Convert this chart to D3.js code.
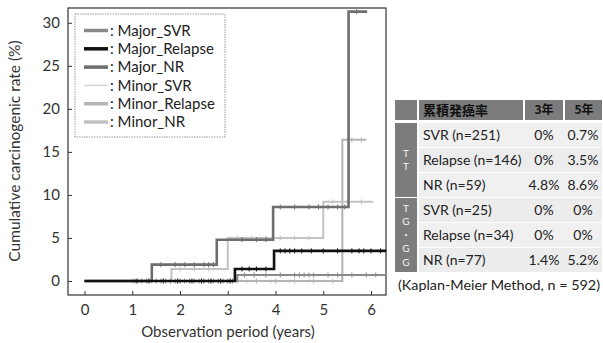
<!DOCTYPE html>
<html>
<head>
<meta charset="utf-8">
<script src="https://cdn.jsdelivr.net/npm/d3@7"></script>
<style>
  body { margin: 0; background: #fff; }
  svg { display: block; font-family: Lato, "Noto Sans CJK JP", sans-serif; }
</style>
</head>
<body>
<svg id="chart" width="603" height="343"></svg>
<script>
// axis ticks
const yearTicks = [0, 1, 2, 3, 4, 5, 6];
const rateTicks = [0, 5, 10, 15, 20, 25, 30];

// Kaplan-Meier steps (time in years, cumulative rate %)
const majorSvrT = [0, 3.2, 6.32];
const majorSvrV = [0, 0.7, 0.7];
const majorRelapseT = [0, 3.15, 3.97, 6.32];
const majorRelapseV = [0, 1.4, 3.5, 3.5];
const majorNrT = [0, 1.41, 2.77, 3.95, 5.53, 5.92];
const majorNrV = [0, 1.9, 4.8, 8.6, 31.3, 31.3];
const minorSvrT = [0, 4.95];
const minorSvrV = [0, 0];
const minorRelapseT = [0, 5.4, 5.9];
const minorRelapseV = [0, 16.4, 16.4];
const minorNrT = [0, 1.82, 3.0, 5.0, 6.05];
const minorNrV = [0, 1.4, 5.0, 9.2, 9.2];

// censoring marks (years)
const majorSvrCens = [1.05, 1.2, 1.3, 1.5, 1.6, 1.7, 1.8, 1.9, 2.0, 2.1, 2.2, 2.3, 2.4, 2.5, 2.6, 2.7, 2.8, 2.9, 3.0, 3.1, 3.35, 3.55, 3.8, 4.1, 4.4, 4.5, 4.6, 4.7, 4.8, 5.1, 5.3, 5.6, 5.9, 6.1];
const majorRelapseCens = [1.1, 1.35, 1.65, 1.95, 2.25, 2.45, 2.65, 2.85, 3.05, 3.3, 3.45, 3.6, 3.8, 4.1, 4.2, 4.3, 4.4, 4.55, 4.75, 5.0, 5.3, 5.6, 5.75, 5.85, 6.0, 6.2];
const majorNrCens = [1.6, 1.9, 2.1, 2.3, 2.5, 2.6, 2.7, 3.3, 3.6, 3.8, 4.1, 4.4, 4.7, 4.9, 5.1, 5.3, 5.45, 5.7];
const minorSvrCens = [1.4, 2.0, 2.6, 3.4, 3.9, 4.3, 4.7];
const minorRelapseCens = [1.0, 1.8, 2.5, 3.2, 3.6, 4.0, 4.4, 4.8, 5.2, 5.6, 5.8];
const minorNrCens = [2.0, 2.3, 2.6, 3.2, 3.5, 3.8, 4.1, 4.4, 4.7, 5.2, 5.5, 5.8];

const seriesNames = ["Major_SVR", "Major_Relapse", "Major_NR", "Minor_SVR", "Minor_Relapse", "Minor_NR"];
const seriesT = [majorSvrT, majorRelapseT, majorNrT, minorSvrT, minorRelapseT, minorNrT];
const seriesV = [majorSvrV, majorRelapseV, majorNrV, minorSvrV, minorRelapseV, minorNrV];
const seriesCens = [majorSvrCens, majorRelapseCens, majorNrCens, minorSvrCens, minorRelapseCens, minorNrCens];
const seriesColor = ["#8a8a8a", "#111111", "#6e6e6e", "#d4d4d4", "#b4b4b4", "#c2c2c2"];
const seriesWidth = [2.2, 2.6, 2.6, 1.4, 2, 2];

// table
const headerLabels = ["累積発癌率", "3年", "5年"];
const groupLabels = [["T", "T"], ["T", "G", "・", "G", "G"]];
const rowLabels = ["SVR (n=251)", "Relapse (n=146)", "NR (n=59)", "SVR (n=25)", "Relapse (n=34)", "NR (n=77)"];
const rate3y = ["0%", "0%", "4.8%", "0%", "0%", "1.4%"];
const rate5y = ["0.7%", "3.5%", "8.6%", "0%", "0%", "5.2%"];
const caption = "(Kaplan-Meier Method, n =  592)";

const svg = d3.select("#chart");

const box = { left: 68, top: 8, right: 386, bottom: 295 };
const x = d3.scaleLinear().domain([0, 6]).range([84.5, 371]);
const y = d3.scaleLinear().domain([0, 30]).range([281, 22.8]);

// frame
svg.append("rect")
  .attr("x", box.left).attr("y", box.top)
  .attr("width", box.right - box.left).attr("height", box.bottom - box.top)
  .attr("fill", "none").attr("stroke", "#333").attr("stroke-width", 1.2);

const yAxis = svg.append("g")
  .attr("transform", `translate(${box.left},0)`)
  .call(d3.axisLeft(y).tickValues(rateTicks).tickFormat(d3.format("d")).tickSize(-4).tickPadding(8));
const xAxis = svg.append("g")
  .attr("transform", `translate(0,${box.bottom})`)
  .call(d3.axisBottom(x).tickValues(yearTicks).tickFormat(d3.format("d")).tickSize(-4).tickPadding(9));
[xAxis, yAxis].forEach(a => {
  a.select(".domain").remove();
  a.selectAll("line").attr("stroke", "#333");
  a.selectAll("text").attr("fill", "#333").style("font-size", "15px").style("font-family", "Lato, sans-serif");
});

svg.append("text")
  .attr("x", 228).attr("y", 337)
  .attr("text-anchor", "middle").attr("fill", "#333")
  .style("font-size", "15px")
  .text("Observation period (years)");

svg.append("text")
  .attr("transform", "translate(20,151) rotate(-90)")
  .attr("text-anchor", "middle").attr("fill", "#333")
  .style("font-size", "15.5px")
  .text("Cumulative carcinogenic rate (%)");

// curves
const line = d3.line().x(d => x(d[0])).y(d => y(d[1])).curve(d3.curveStepAfter);

function valueAt(ts, vs, t) {
  let v = vs[0];
  for (let i = 0; i < ts.length; i++) if (ts[i] <= t) v = vs[i];
  return v;
}

const drawOrder = [3, 4, 5, 0, 2, 1];
drawOrder.forEach(i => {
  const pts = seriesT[i].map((t, k) => [t, seriesV[i][k]]);
  svg.append("path")
    .attr("d", line(pts))
    .attr("fill", "none")
    .attr("stroke", seriesColor[i])
    .attr("stroke-width", seriesWidth[i]);
  svg.append("g").selectAll("line")
    .data(seriesCens[i].filter(t => t <= seriesT[i][seriesT[i].length - 1]))
    .join("line")
    .attr("x1", t => x(t)).attr("x2", t => x(t))
    .attr("y1", t => y(valueAt(seriesT[i], seriesV[i], t)) - 2.5)
    .attr("y2", t => y(valueAt(seriesT[i], seriesV[i], t)) + 2.5)
    .attr("stroke", seriesColor[i])
    .attr("stroke-width", 1);
});

// legend
const lg = svg.append("g");
lg.append("rect")
  .attr("x", 75).attr("y", 14).attr("width", 150).attr("height", 123)
  .attr("fill", "#fff").attr("stroke", "#999").attr("stroke-width", 1)
  .attr("stroke-dasharray", "1.5,1");
seriesNames.forEach((name, i) => {
  const yy = 30.5 + i * 18.3;
  lg.append("line")
    .attr("x1", 84).attr("x2", 108).attr("y1", yy).attr("y2", yy)
    .attr("stroke", seriesColor[i]).attr("stroke-width", i === 3 ? 1.4 : 3.5);
  lg.append("text")
    .attr("x", 110).attr("y", yy).attr("dy", "0.35em")
    .attr("fill", "#222").style("font-size", "15px")
    .text(": " + name);
});

// table
const tb = svg.append("g");
const rowY = d3.scaleBand().domain(rowLabels).range([123, 272]).paddingInner(0.04);
const dark = "#7c7c7c";
const light = "#f0f0f0";

tb.append("rect").attr("x", 395).attr("y", 100).attr("width", 22).attr("height", 20).attr("fill", dark);
tb.append("rect").attr("x", 419).attr("y", 100).attr("width", 104).attr("height", 20).attr("fill", dark);
tb.append("rect").attr("x", 525).attr("y", 100).attr("width", 38).attr("height", 20).attr("fill", dark);
tb.append("rect").attr("x", 565).attr("y", 100).attr("width", 37).attr("height", 20).attr("fill", dark);

tb.append("text").attr("x", 423).attr("y", 110).attr("dy", "0.35em")
  .style("font-size", "13px").style("font-weight", "bold").attr("fill", "#111")
  .style("font-family", "'Noto Sans CJK JP', sans-serif")
  .text(headerLabels[0]);
tb.append("text").attr("x", 544).attr("y", 110).attr("dy", "0.35em").attr("text-anchor", "middle")
  .style("font-size", "12px").style("font-weight", "bold").attr("fill", "#111")
  .style("font-family", "'Noto Sans CJK JP', sans-serif")
  .text(headerLabels[1]);
tb.append("text").attr("x", 584).attr("y", 110).attr("dy", "0.35em").attr("text-anchor", "middle")
  .style("font-size", "12px").style("font-weight", "bold").attr("fill", "#111")
  .style("font-family", "'Noto Sans CJK JP', sans-serif")
  .text(headerLabels[2]);

// group cells
const groupSpans = [[rowY(rowLabels[0]), rowY(rowLabels[2]) + rowY.bandwidth()],
                    [rowY(rowLabels[3]), rowY(rowLabels[5]) + rowY.bandwidth()]];
groupSpans.forEach((s, g) => {
  tb.append("rect").attr("x", 395).attr("y", s[0]).attr("width", 22).attr("height", s[1] - s[0]).attr("fill", dark);
  const letters = groupLabels[g];
  const step = g === 0 ? 13 : 13.5;
  const mid = (s[0] + s[1]) / 2;
  letters.forEach((ch, k) => {
    tb.append("text").attr("x", 406).attr("y", mid + (k - (letters.length - 1) / 2) * step)
      .attr("dy", "0.35em").attr("text-anchor", "middle")
      .style("font-size", "10px").attr("fill", "#f4f4f4")
      .text(ch);
  });
});

rowLabels.forEach((r, i) => {
  const yy = rowY(r);
  tb.append("rect").attr("x", 419).attr("y", yy).attr("width", 183).attr("height", rowY.bandwidth())
    .attr("fill", i % 2 === 1 ? "#ececec" : light);
  const cy = yy + rowY.bandwidth() / 2;
  tb.append("text").attr("x", 423).attr("y", cy).attr("dy", "0.35em")
    .style("font-size", "14px").attr("fill", "#222").text(r);
  tb.append("text").attr("x", 544).attr("y", cy).attr("dy", "0.35em").attr("text-anchor", "middle")
    .style("font-size", "14px").attr("fill", "#222").text(rate3y[i]);
  tb.append("text").attr("x", 583).attr("y", cy).attr("dy", "0.35em").attr("text-anchor", "middle")
    .style("font-size", "14px").attr("fill", "#222").text(rate5y[i]);
});

tb.append("text").attr("x", 398).attr("y", 285).attr("dy", "0.35em")
  .style("font-size", "14px").attr("fill", "#222")
  .attr("textLength", 202).attr("lengthAdjust", "spacingAndGlyphs")
  .text(caption);
</script>
</body>
</html>
